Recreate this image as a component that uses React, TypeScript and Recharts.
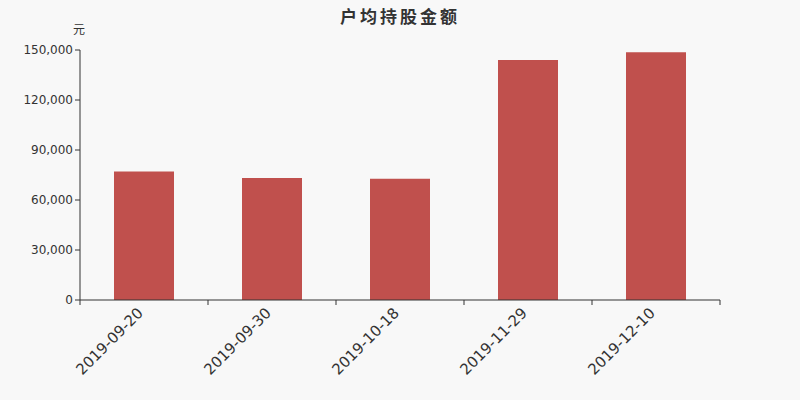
import React from "react";
import { BarChart, Bar, XAxis, YAxis } from "recharts";

const dates = ["2019-09-20", "2019-09-30", "2019-10-18", "2019-11-29", "2019-12-10"];
const amounts = [77100, 73200, 72800, 144000, 148600];
const yTicks = [0, 30000, 60000, 90000, 120000, 150000];

const data = dates.map((date, i) => ({ date, amount: amounts[i] }));

const FONT = "'DejaVu Sans', 'Noto Sans CJK SC', sans-serif";

function DateTick(props: any) {
  const { x, y, payload, index } = props;
  const half = payload?.offset ?? 64;
  return (
    <g>
      <line x1={x - half} y1={y - 8} x2={x - half} y2={y - 3} stroke="#333" />
      {index === dates.length - 1 && (
        <line x1={x + half} y1={y - 8} x2={x + half} y2={y - 3} stroke="#333" />
      )}
      <text
        x={x}
        y={y + 6}
        transform={`rotate(-45, ${x}, ${y + 6})`}
        textAnchor="end"
        fontSize={15}
        fill="#333"
        fontFamily={FONT}
      >
        {payload.value}
      </text>
    </g>
  );
}

export default function App() {
  return (
    <div style={{ width: 800, height: 400, background: "#f8f8f8", position: "relative", fontFamily: FONT }}>
      <style>{`body{margin:0}`}</style>
      <div
        style={{
          position: "absolute",
          top: 3,
          left: 0,
          width: 800,
          textAlign: "center",
          fontSize: 17,
          fontWeight: "bold",
          letterSpacing: 3,
          color: "#333",
        }}
      >
        户均持股金额
      </div>
      <div style={{ position: "absolute", top: 20, left: 73, fontSize: 12, color: "#333" }}>元</div>
      <BarChart
        width={800}
        height={400}
        data={data}
        margin={{ top: 50, right: 80, bottom: 0, left: 0 }}
        barCategoryGap={34}
      >
        <XAxis
          dataKey="date"
          tick={<DateTick />}
          tickLine={false}
          axisLine={{ stroke: "#333" }}
          interval={0}
          height={100}
        />
        <YAxis
          width={80}
          domain={[0, 150000]}
          ticks={yTicks}
          tickFormatter={(v: number) => v.toLocaleString("en-US")}
          tick={{ fontSize: 12, fill: "#333", fontFamily: FONT }}
          tickLine={{ stroke: "#333" }}
          tickSize={5}
          axisLine={{ stroke: "#333" }}
        />
        <Bar dataKey="amount" fill="#c0504d" isAnimationActive={false} />
      </BarChart>
    </div>
  );
}
